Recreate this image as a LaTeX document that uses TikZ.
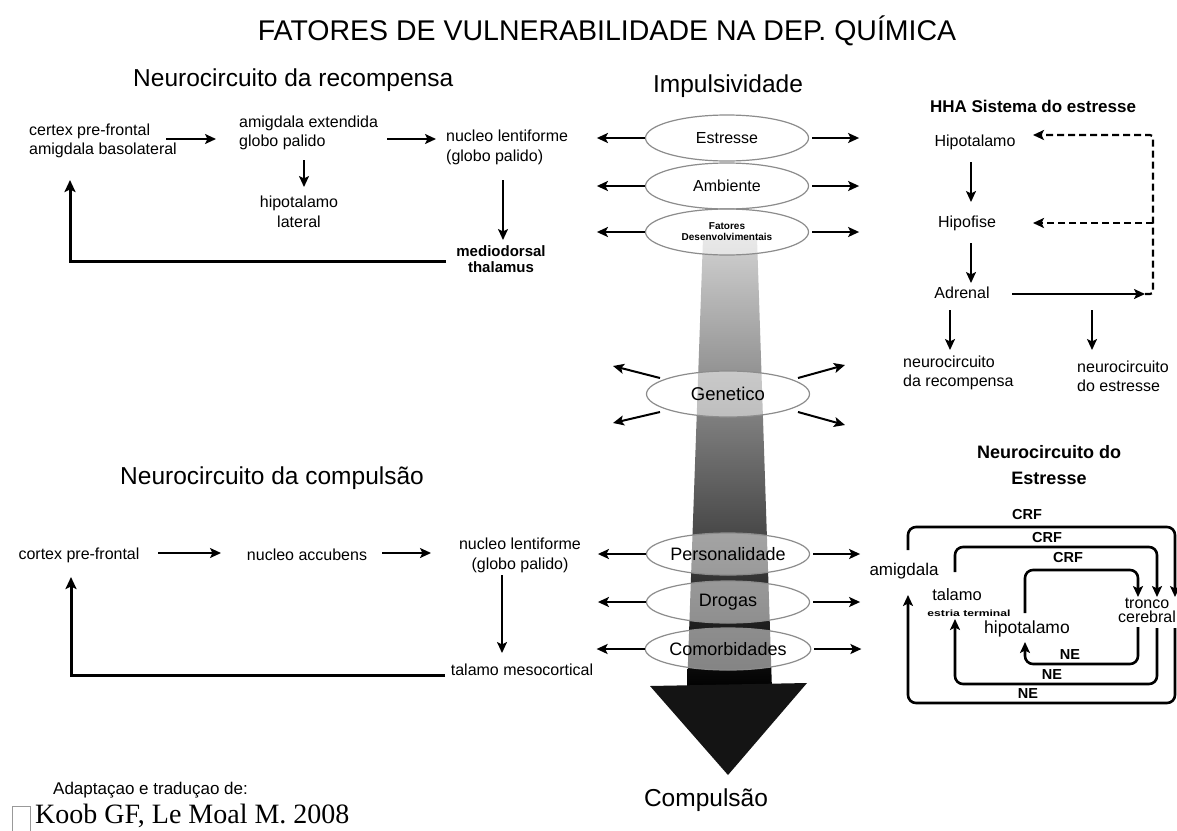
\documentclass[tikz,border=0pt]{standalone}
\usepackage{fontspec}
\setmainfont{Liberation Sans}
\newfontfamily\serifk{Liberation Serif}
\usetikzlibrary{arrows.meta,shapes.geometric}
\begin{document}
\begin{tikzpicture}[x=1pt,y=-1pt,
  every node/.style={inner sep=0pt},
  txt/.style={font=\fontsize{16}{19}\selectfont},
  headtxt/.style={font=\fontsize{24.5}{29}\selectfont},
  arr/.style={line width=2pt,-{Stealth[length=11pt,width=10pt,inset=2.5pt]}},
  fb/.style={line width=3pt,-{Stealth[length=12pt,width=11pt,inset=2.5pt]}},
  ell/.style={ellipse,draw=black!45,line width=1.2pt,minimum width=163pt,minimum height=46pt,fill=white,fill opacity=0.5,text opacity=1},
  lp/.style={line width=2.6pt,rounded corners=8pt,-{Stealth[length=11pt,width=10pt,inset=2.5pt]}},
  dsh/.style={line width=2.2pt,dash pattern=on 7pt off 4pt,rounded corners=3pt,-{Stealth[length=11pt,width=10pt,inset=2.5pt]}},
  lab/.style={font=\bfseries\fontsize{14.5}{16}\selectfont}
]
\fill[white] (0,0) rectangle (1177,830);
\useasboundingbox (0,0) rectangle (1177,830);

% headings
\node[font=\fontsize{28.5}{32}\selectfont] (title) at (607,31) {FATORES DE VULNERABILIDADE NA DEP. QUÍMICA};
\node[headtxt,anchor=west] (hrec) at (133,80) {Neurocircuito da recompensa};
\node[headtxt] (himp) at (728,86) {Impulsividade};
\node[font=\bfseries\fontsize{17}{20}\selectfont] (hhha) at (1033,106) {HHA Sistema do estresse};
\node[headtxt,anchor=west] (hcom) at (120,478) {Neurocircuito da compulsão};
\node[font=\bfseries\fontsize{18}{26}\selectfont,align=center] (hstr) at (1049,465) {Neurocircuito do\\Estresse};

% central shaft
\shade[top color=black!18,middle color=black!58,bottom color=black] (703,238) -- (757,238) -- (772,690) -- (687,690) -- cycle;
\fill[black!92] (650,686) -- (807,683) -- (728,775) -- cycle;
\node[headtxt] (hcmp) at (706,800) {Compulsão};

% ellipses
\node[ell,font=\fontsize{16}{18}\selectfont] (eS) at (727,138) {Estresse};
\node[ell,font=\fontsize{16}{18}\selectfont] (eA) at (727,186) {Ambiente};
\node[ell,font=\bfseries\fontsize{10}{11}\selectfont,align=center] (eF) at (727,232) {Fatores\\Desenvolvimentais};
\node[ell,font=\fontsize{18.5}{20}\selectfont] (eG) at (728,394) {Genetico};
\node[ell,minimum height=42pt,font=\fontsize{18}{20}\selectfont] (eP) at (728,554) {Personalidade};
\node[ell,minimum height=42pt,font=\fontsize{18}{20}\selectfont] (eD) at (728,602) {Drogas};
\node[ell,minimum height=42pt,font=\fontsize{18}{20}\selectfont] (eC) at (728,649) {Comorbidades};

\foreach \e in {eS,eA,eF,eP,eD,eC}{
  \draw[arr] (\e.west) -- ([shift={(-48,0)}]\e.west);
  \draw[arr] ([shift={(3,0)}]\e.east) -- ([shift={(50,0)}]\e.east);
}
\draw[arr] ([shift={(-68,-16)}]eG.center) -- ([shift={(-115,-28)}]eG.center);
\draw[arr] ([shift={(-68,18)}]eG.center) -- ([shift={(-115,29)}]eG.center);
\draw[arr] ([shift={(70,-16)}]eG.center) -- ([shift={(117,-29)}]eG.center);
\draw[arr] ([shift={(70,18)}]eG.center) -- ([shift={(117,31)}]eG.center);

% reward circuit
\node[txt,align=left,anchor=west] (r1) at (29,141) {certex pre-frontal\\amigdala basolateral};
\node[txt,align=left,anchor=west] (r2) at (239,133) {amigdala extendida\\globo palido};
\node[font=\fontsize{16}{20}\selectfont,align=center] (r3) at (299,212) {hipotalamo\\lateral};
\node[font=\fontsize{16}{20}\selectfont,align=left,anchor=west] (r4) at (446,147) {nucleo lentiforme\\(globo palido)};
\node[font=\bfseries\fontsize{15}{16}\selectfont,align=center] (r5) at (501,259) {mediodorsal\\thalamus};
\draw[arr] ([shift={(137,-2)}]r1.west) -- ([shift={(-23,6)}]r2.west);
\draw[arr] ([shift={(65,27)}]r2.west) -- ([shift={(5,-25)}]r3.center);
\draw[arr] ([shift={(148,6)}]r2.west) -- ([shift={(-10,-8)}]r4.west);
\draw[arr] ([shift={(57,33)}]r4.west) -- ([shift={(2,-19)}]r5.center);
\draw[fb] ([shift={(-55,2)}]r5.center) -| ([shift={(41,39)}]r1.west);

% compulsion circuit
\node[txt] (c1) at (79,555) {cortex pre-frontal};
\node[txt] (c2) at (307,555) {nucleo accubens};
\node[font=\fontsize{16}{20}\selectfont,align=center] (c3) at (520,555) {nucleo lentiforme\\(globo palido)};
\node[txt] (c4) at (522,670) {talamo mesocortical};
\draw[arr] ([shift={(79,-2)}]c1.center) -- ([shift={(-86,-2)}]c2.center);
\draw[arr] ([shift={(75,-2)}]c2.center) -- ([shift={(-89,-2)}]c3.center);
\draw[arr] ([shift={(-18,20)}]c3.center) -- ([shift={(-20,-17)}]c4.center);
\draw[fb] ([shift={(-77,5)}]c4.center) -| ([shift={(-8,22)}]c1.center);

% HHA
\node[txt] (h1) at (975,142) {Hipotalamo};
\node[txt] (h2) at (967,223) {Hipofise};
\node[txt] (h3) at (962,293) {Adrenal};
\node[txt,align=left,anchor=west] (h4) at (903,373) {neurocircuito\\da recompensa};
\node[txt,align=left,anchor=west] (h5) at (1077,376) {neurocircuito\\do estresse};
\coordinate (hc) at (1145,294);
\coordinate (hd) at (1153,135);
\draw[arr] ([shift={(-4,20)}]h1.center) -- ([shift={(4,-21)}]h2.center);
\draw[arr] ([shift={(4,20)}]h2.center) -- ([shift={(9,-10)}]h3.center);
\draw[arr] ([shift={(-12,17)}]h3.center) -- ([shift={(47,-23)}]h4.west);
\draw[arr] ([shift={(130,17)}]h3.center) -- ([shift={(15,-26)}]h5.west);
\draw[arr] ([shift={(50,1)}]h3.center) -- (hc);
\draw[dsh] (hc) -| (hd) -- ([shift={(58,-7)}]h1.center);
\draw[dsh] (hd |- h2.center) -- ([shift={(66,0)}]h2.center);

% stress neurocircuit
\node[font=\fontsize{17}{20}\selectfont] (sam) at (904,571) {amigdala};
\node[font=\fontsize{16.5}{18}\selectfont] (sta) at (957,595) {talamo};
\node[font=\bfseries\fontsize{9}{10}\selectfont] (ses) at (969,613) {\scalebox{1.35}[1]{estria terminal}};
\node[font=\fontsize{17.5}{20}\selectfont] (shi) at (1027,629) {hipotalamo};
\node[font=\fontsize{16}{14}\selectfont,align=center] (str) at (1147,610) {tronco\\cerebral};
\draw[lp] ([shift={(4,-21)}]sam.center) |- ([shift={(28,-83)}]str.center) -- ([shift={(28,-13)}]str.center);
\draw[lp] ([shift={(28,18)}]str.center) |- ([shift={(4,132)}]sam.center) -- ([shift={(4,24)}]sam.center);
\draw[lp] ([shift={(-2,-23)}]sta.center) |- ([shift={(10,-63)}]str.center) -- ([shift={(10,-13)}]str.center);
\draw[lp] ([shift={(10,18)}]str.center) |- ([shift={(-2,89)}]sta.center) -- ([shift={(-2,24)}]sta.center);
\draw[lp] ([shift={(-2,-16)}]shi.center) |- ([shift={(-9,-40)}]str.center) -- ([shift={(-9,-13)}]str.center);
\draw[lp] ([shift={(-9,17)}]str.center) |- ([shift={(-2,35)}]shi.center) -- ([shift={(-2,13)}]shi.center);
\node[lab] (crf1) at (1027,515) {CRF};
\node[lab] (crf2) at (1047,537) {CRF};
\node[lab] (crf3) at (1068,557) {CRF};
\node[lab] (ne1) at (1070,655) {NE};
\node[lab] (ne2) at (1052,675) {NE};
\node[lab] (ne3) at (1028,694) {NE};

% footer
\node[font=\fontsize{17}{20}\selectfont,anchor=west] (ad) at (53,790) {Adaptaçao e traduçao de:};
\node[font=\serifk\fontsize{28}{32}\selectfont,anchor=base west] (koob) at (35,823) {Koob GF, Le Moal M. 2008};
\draw[black!40,line width=1pt] (12,806) rectangle (30,838);
\end{tikzpicture}
\end{document}
